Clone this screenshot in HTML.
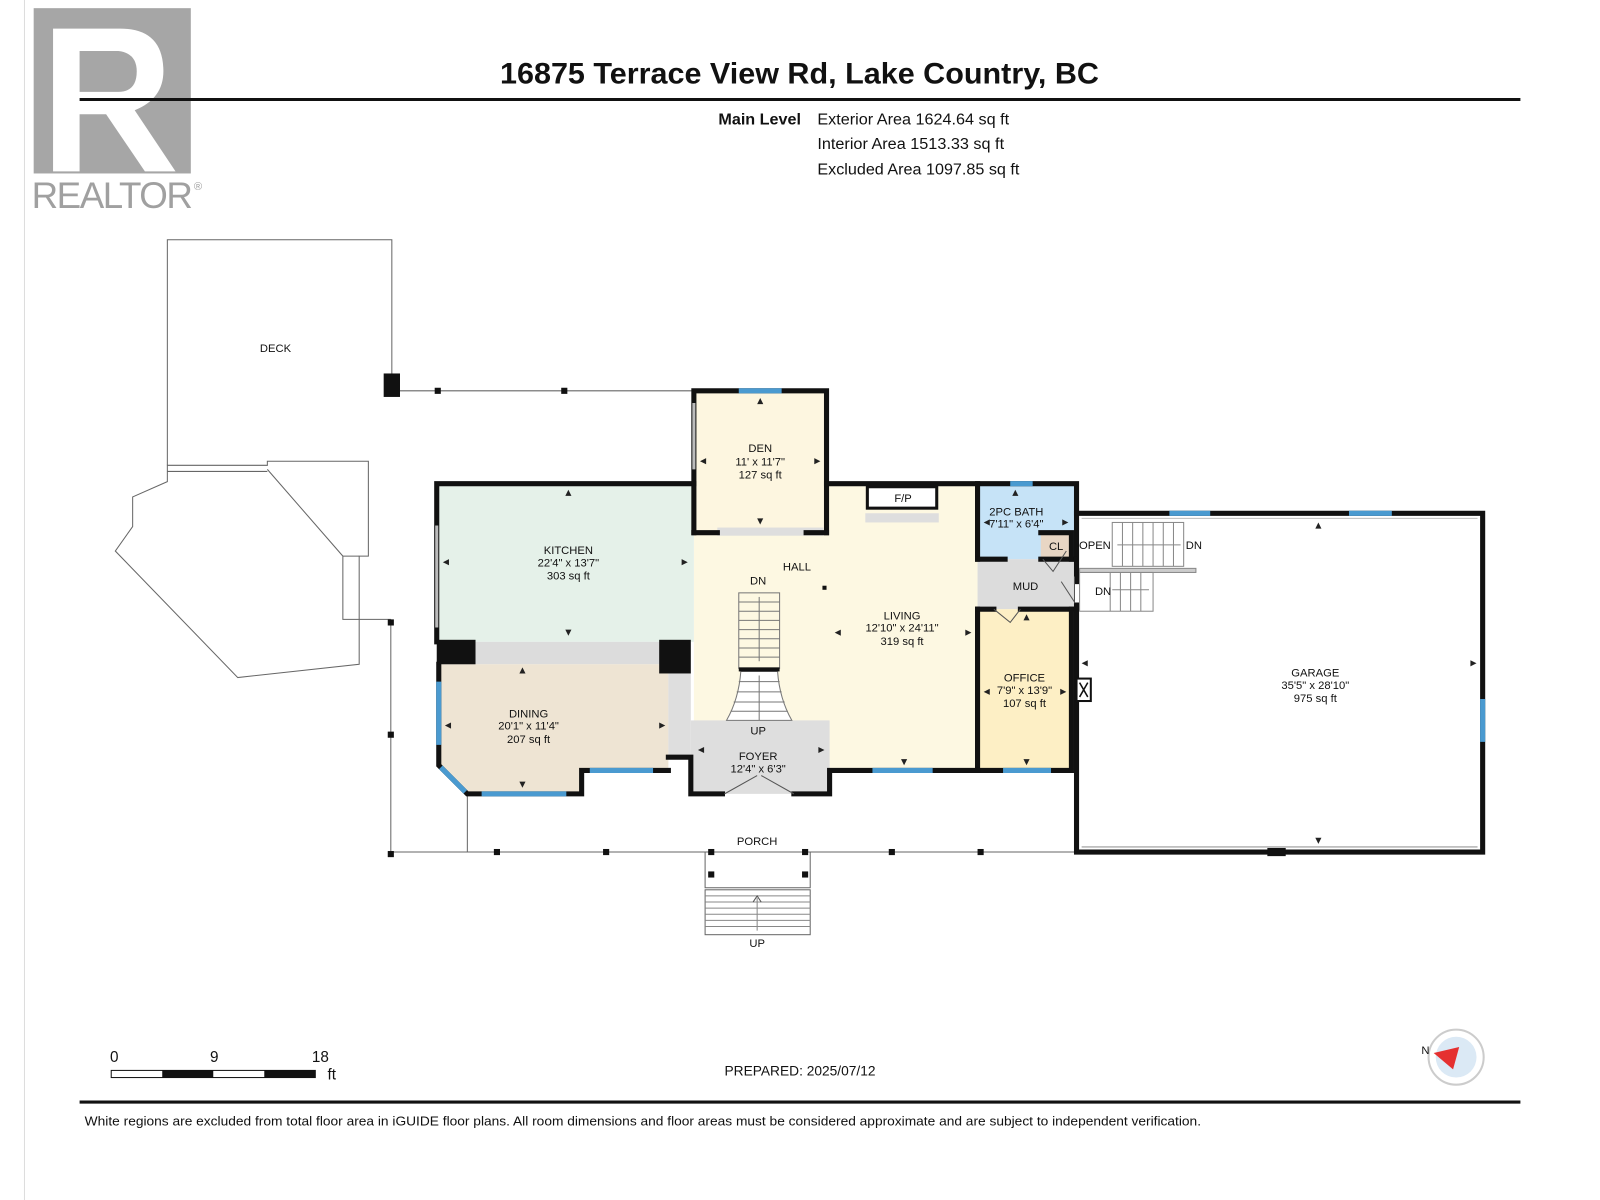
<!DOCTYPE html>
<html><head><meta charset="utf-8"><style>
html,body{margin:0;padding:0;background:#fff;width:1600px;height:1200px;overflow:hidden}
svg{display:block}
text{font-family:"Liberation Sans",Arial,sans-serif;fill:#111}
.r{font-size:11px;text-anchor:middle}
</style></head><body>
<svg width="1600" height="1200" viewBox="0 0 1568 1176" preserveAspectRatio="none" xmlns="http://www.w3.org/2000/svg">
<rect width="1568" height="1176" fill="#fff"/>
<line x1="24" y1="0" x2="24" y2="1176" stroke="#ddd" stroke-width="1"/>
<!-- logo -->
<rect x="33" y="8" width="154" height="162" fill="#a6a6a6"/>
<path d="M52,28 L52,168 L78,168 L78,112 L104,112 L142,168 L172,168 L132,108 Q162,96 160,66 Q158,28 118,28 Z M78,50 L116,50 Q134,52 134,70 Q134,90 116,90 L78,90 Z" fill="#fff"/>
<text x="31" y="204" font-size="36" style="fill:#a0a0a0" textLength="158">REALTOR</text>
<text x="190" y="186" font-size="11" style="fill:#a0a0a0">®</text>
<!-- title -->
<text x="490" y="82" font-size="29" font-weight="bold" textLength="587" lengthAdjust="spacingAndGlyphs">16875 Terrace View Rd, Lake Country, BC</text>
<line x1="78" y1="97.5" x2="1490" y2="97.5" stroke="#111" stroke-width="3"/>
<text x="704" y="122" font-size="15" font-weight="bold" textLength="81" lengthAdjust="spacingAndGlyphs">Main Level</text>
<text x="801" y="122" font-size="15" textLength="188" lengthAdjust="spacingAndGlyphs">Exterior Area 1624.64 sq ft</text>
<text x="801" y="146" font-size="15" textLength="183" lengthAdjust="spacingAndGlyphs">Interior Area 1513.33 sq ft</text>
<text x="801" y="171" font-size="15" textLength="198" lengthAdjust="spacingAndGlyphs">Excluded Area 1097.85 sq ft</text>

<!-- deck -->
<g fill="none" stroke="#666" stroke-width="1">
<polyline points="164,456 164,235 384,235 384,370"/>
<polygon points="164,456 262,456 262,452 361,452 361,545 352,545 352,651 233,664 113,540 130,516 130,487 164,472"/>
<line x1="164" y1="462" x2="262" y2="462"/>
<polyline points="262,460 336,545 336,607 383,607"/>
<line x1="336" y1="545" x2="352" y2="545"/>
<line x1="392" y1="383" x2="680" y2="383"/>
<line x1="383" y1="607" x2="383" y2="838"/>
<line x1="383" y1="835" x2="1055" y2="835"/>
<line x1="458" y1="778" x2="458" y2="835"/>
<polyline points="691,835 691,870 794,870 794,835"/>
<rect x="691" y="872" width="103" height="44"/>
</g>
<g stroke="#888" stroke-width="1">
<line x1="691" y1="878" x2="794" y2="878"/><line x1="691" y1="884" x2="794" y2="884"/><line x1="691" y1="890" x2="794" y2="890"/><line x1="691" y1="896" x2="794" y2="896"/><line x1="691" y1="902" x2="794" y2="902"/><line x1="691" y1="908" x2="794" y2="908"/>
<line x1="742" y1="880" x2="742" y2="912"/>
</g>
<path d="M738,884 L742,878 L746,884" fill="none" stroke="#555"/>
<rect x="376" y="366" width="16" height="23" fill="#111"/>
<g fill="#111">
<rect x="426" y="380" width="6" height="6"/><rect x="550" y="380" width="6" height="6"/>
<rect x="380" y="607" width="6" height="6"/><rect x="380" y="717" width="6" height="6"/><rect x="380" y="834" width="6" height="6"/>
<rect x="484" y="832" width="6" height="6"/><rect x="591" y="832" width="6" height="6"/><rect x="694" y="832" width="6" height="6"/><rect x="786" y="832" width="6" height="6"/><rect x="871" y="832" width="6" height="6"/><rect x="958" y="832" width="6" height="6"/>
<rect x="694" y="854" width="6" height="6"/><rect x="786" y="854" width="6" height="6"/>
</g>
<text x="270" y="345" class="r">DECK</text>
<text x="742" y="828" class="r">PORCH</text>
<text x="742" y="928" class="r">UP</text>

<!-- room fills -->
<rect x="680" y="474" width="278" height="281" fill="#fdf8e2"/>
<rect x="680" y="383" width="130" height="139" fill="#fdf6e0"/>
<rect x="428" y="474" width="252" height="155" fill="#e5f1e9"/>
<rect x="466" y="629" width="182" height="22" fill="#dcdcdc"/>
<polygon points="430,651 655,651 655,755 570,755 570,778 458,778 430,750" fill="#eee4d3"/>
<rect x="655" y="660" width="22" height="82" fill="#dedede"/>
<rect x="677" y="706" width="136" height="72" fill="#dedede"/>
<rect x="958" y="474" width="95" height="74" fill="#c6e3f7"/>
<rect x="1020" y="522" width="30" height="26" fill="#e8d6c4"/>
<rect x="958" y="548" width="95" height="49" fill="#dcdcdc"/>
<rect x="958" y="597" width="92" height="158" fill="#fdefc5"/>
<rect x="703" y="517" width="104" height="8" fill="#dedede"/>
<rect x="848" y="503" width="72" height="9" fill="#dedede"/>
<rect x="850" y="477" width="68" height="21" fill="#fff" stroke="#111" stroke-width="3"/>

<!-- stairs -->
<g stroke="#777" stroke-width="1" fill="none">
<rect x="724" y="581" width="40" height="74"/>
<line x1="724" y1="590" x2="764" y2="590"/><line x1="724" y1="599" x2="764" y2="599"/><line x1="724" y1="608" x2="764" y2="608"/><line x1="724" y1="617" x2="764" y2="617"/><line x1="724" y1="626" x2="764" y2="626"/><line x1="724" y1="635" x2="764" y2="635"/><line x1="724" y1="644" x2="764" y2="644"/>
<line x1="744" y1="585" x2="744" y2="648"/>
<path d="M726,658 L762,658 Q764,685 776,706 L712,706 Q724,685 726,658 Z" fill="#fff"/>
<line x1="724" y1="668" x2="764" y2="668"/><line x1="722" y1="678" x2="766" y2="678"/><line x1="719" y1="688" x2="769" y2="688"/><line x1="716" y1="697" x2="772" y2="697"/>
<line x1="744" y1="662" x2="744" y2="706"/>
</g>
<rect x="724" y="654" width="40" height="4" fill="#111"/>

<!-- walls -->
<g stroke="#111" stroke-width="5" fill="none" stroke-linecap="square">
<polyline points="428,629 428,474 680,474"/>
<polyline points="680,522 680,383 810,383 810,522"/>
<line x1="680" y1="522" x2="703" y2="522"/><line x1="790" y1="522" x2="810" y2="522"/>
<polyline points="810,474 1055,474 1055,570"/>
<line x1="958" y1="474" x2="958" y2="548"/>
<line x1="958" y1="597" x2="958" y2="755"/>
<line x1="958" y1="597" x2="974" y2="597"/><line x1="1000" y1="597" x2="1050" y2="597"/>
<line x1="958" y1="548" x2="985" y2="548"/><line x1="1020" y1="548" x2="1053" y2="548"/>
<polyline points="1020,522 1050,522 1050,548"/>
<polyline points="1050,597 1050,755 958,755"/>
<polyline points="958,755 813,755 813,778 778,778"/>
<polyline points="708,778 677,778 677,742 655,742"/>
<polyline points="655,755 570,755 570,778 458,778 430,750 430,651"/>
<polyline points="1055,593 1055,835 1453,835 1453,503 1055,503"/>
</g>
<rect x="428" y="627" width="38" height="24" fill="#111"/>
<rect x="646" y="627" width="31" height="33" fill="#111"/>
<rect x="1055" y="665" width="14" height="22" fill="#fff" stroke="#111" stroke-width="2"/>
<path d="M1058,669 L1066,683 M1066,669 L1058,683" stroke="#111" stroke-width="1.5"/>
<line x1="1060" y1="830" x2="1448" y2="830" stroke="#999" stroke-width="1"/>
<line x1="1060" y1="508" x2="1448" y2="508" stroke="#bbb" stroke-width="1"/>
<rect x="1242" y="831" width="18" height="8" fill="#111"/>
<!-- windows -->
<g stroke="#4a9ad0" stroke-width="5">
<line x1="724" y1="383" x2="766" y2="383"/>
<line x1="990" y1="474" x2="1012" y2="474"/>
<line x1="1146" y1="503" x2="1186" y2="503"/><line x1="1322" y1="503" x2="1364" y2="503"/>
<line x1="1453" y1="685" x2="1453" y2="727"/>
<line x1="430" y1="668" x2="430" y2="730"/>
<line x1="432" y1="752" x2="456" y2="776"/>
<line x1="472" y1="778" x2="555" y2="778"/>
<line x1="578" y1="755" x2="640" y2="755"/>
<line x1="855" y1="755" x2="914" y2="755"/>
<line x1="983" y1="755" x2="1030" y2="755"/>
</g>
<line x1="680" y1="395" x2="680" y2="460" stroke="#bbb" stroke-width="3"/>
<line x1="428" y1="515" x2="428" y2="615" stroke="#bbb" stroke-width="3"/>
<!-- doors -->
<g stroke="#555" fill="none" stroke-width="1">
<path d="M710,778 L742,760 M778,778 L746,760"/>
<path d="M974,597 L990,610 L1000,597"/>
<path d="M1040,570 L1053,590 L1053,565"/>
<path d="M1022,548 L1032,560 L1045,540"/>
</g>
<!-- dimension arrows -->
<g fill="#222">
<path d="M745,390 l-3,6 h6z"/><path d="M745,514 l-3,-6 h6z"/><path d="M686,452 l6,-3 v6z"/><path d="M804,452 l-6,-3 v6z"/>
<path d="M557,480 l-3,6 h6z"/><path d="M557,623 l-3,-6 h6z"/><path d="M434,551 l6,-3 v6z"/><path d="M674,551 l-6,-3 v6z"/>
<path d="M512,654 l-3,6 h6z"/><path d="M512,772 l-3,-6 h6z"/><path d="M436,711 l6,-3 v6z"/><path d="M652,711 l-6,-3 v6z"/>
<path d="M886,750 l-3,-6 h6z"/><path d="M818,620 l6,-3 v6z"/><path d="M952,620 l-6,-3 v6z"/>
<path d="M684,735 l6,-3 v6z"/><path d="M808,735 l-6,-3 v6z"/>
<path d="M1006,602 l-3,6 h6z"/><path d="M1006,750 l-3,-6 h6z"/><path d="M964,678 l6,-3 v6z"/><path d="M1045,678 l-6,-3 v6z"/>
<path d="M995,480 l-3,6 h6z"/><path d="M964,512 l6,-3 v6z"/><path d="M1047,512 l-6,-3 v6z"/>
<path d="M1292,512 l-3,6 h6z"/><path d="M1292,827 l-3,-6 h6z"/><path d="M1060,650 l6,-3 v6z"/><path d="M1447,650 l-6,-3 v6z"/>
</g>
<!-- garage stairs -->
<g stroke="#888" fill="none" stroke-width="1">
<rect x="1090" y="512" width="70" height="43"/>
<line x1="1100" y1="512" x2="1100" y2="555"/><line x1="1110" y1="512" x2="1110" y2="555"/><line x1="1120" y1="512" x2="1120" y2="555"/><line x1="1130" y1="512" x2="1130" y2="555"/><line x1="1140" y1="512" x2="1140" y2="555"/><line x1="1150" y1="512" x2="1150" y2="555"/>
<line x1="1095" y1="534" x2="1157" y2="534"/>
<rect x="1058" y="557" width="114" height="4" fill="#ccc"/>
<rect x="1058" y="561" width="72" height="38"/>
<line x1="1088" y1="561" x2="1088" y2="599"/><line x1="1098" y1="561" x2="1098" y2="599"/><line x1="1108" y1="561" x2="1108" y2="599"/><line x1="1118" y1="561" x2="1118" y2="599"/>
<line x1="1090" y1="578" x2="1126" y2="578"/>
</g>
<!-- labels -->
<text x="745" y="443" class="r">DEN</text><text x="745" y="456" class="r">11' x 11'7"</text><text x="745" y="469" class="r">127 sq ft</text>
<text x="557" y="543" class="r">KITCHEN</text><text x="557" y="555" class="r">22'4" x 13'7"</text><text x="557" y="568" class="r">303 sq ft</text>
<text x="518" y="703" class="r">DINING</text><text x="518" y="715" class="r">20'1" x 11'4"</text><text x="518" y="728" class="r">207 sq ft</text>
<text x="781" y="559" class="r">HALL</text>
<text x="743" y="573" class="r">DN</text>
<text x="743" y="720" class="r">UP</text>
<text x="884" y="607" class="r">LIVING</text><text x="884" y="619" class="r">12'10" x 24'11"</text><text x="884" y="632" class="r">319 sq ft</text>
<text x="743" y="745" class="r">FOYER</text><text x="743" y="757" class="r">12'4" x 6'3"</text>
<text x="885" y="492" class="r">F/P</text>
<text x="996" y="505" class="r">2PC BATH</text><text x="996" y="517" class="r">7'11" x 6'4"</text>
<text x="1035" y="539" class="r">CL</text>
<text x="1005" y="578" class="r">MUD</text>
<text x="1004" y="668" class="r">OFFICE</text><text x="1004" y="680" class="r">7'9" x 13'9"</text><text x="1004" y="693" class="r">107 sq ft</text>
<text x="1073" y="538" class="r">OPEN</text><text x="1170" y="538" class="r">DN</text>
<text x="1081" y="583" class="r">DN</text>
<text x="1289" y="663" class="r">GARAGE</text><text x="1289" y="675" class="r">35'5" x 28'10"</text><text x="1289" y="688" class="r">975 sq ft</text>
<rect x="806" y="574" width="4" height="4" fill="#111"/>
<!-- scale -->
<text x="112" y="1041" font-size="15" text-anchor="middle">0</text>
<text x="210" y="1041" font-size="15" text-anchor="middle">9</text>
<text x="314" y="1041" font-size="15" text-anchor="middle">18</text>
<rect x="109" y="1049" width="200" height="7" fill="#fff" stroke="#111"/>
<rect x="159" y="1049" width="50" height="7" fill="#111"/><rect x="259" y="1049" width="50" height="7" fill="#111"/>
<text x="321" y="1058" font-size="15">ft</text>
<text x="710" y="1054" font-size="14" textLength="148" lengthAdjust="spacingAndGlyphs">PREPARED: 2025/07/12</text>
<circle cx="1427" cy="1036" r="27" fill="#fff" stroke="#ccc" stroke-width="2"/>
<circle cx="1427" cy="1036" r="20" fill="#dbe9f5"/>
<polygon points="1405,1032 1430,1026 1424,1048" fill="#e53030"/>
<text x="1393" y="1033" font-size="11">N</text>
<line x1="78" y1="1080" x2="1490" y2="1080" stroke="#111" stroke-width="3"/>
<text x="83" y="1103" font-size="13" textLength="1094" lengthAdjust="spacingAndGlyphs">White regions are excluded from total floor area in iGUIDE floor plans. All room dimensions and floor areas must be considered approximate and are subject to independent verification.</text>
</svg>
</body></html>
